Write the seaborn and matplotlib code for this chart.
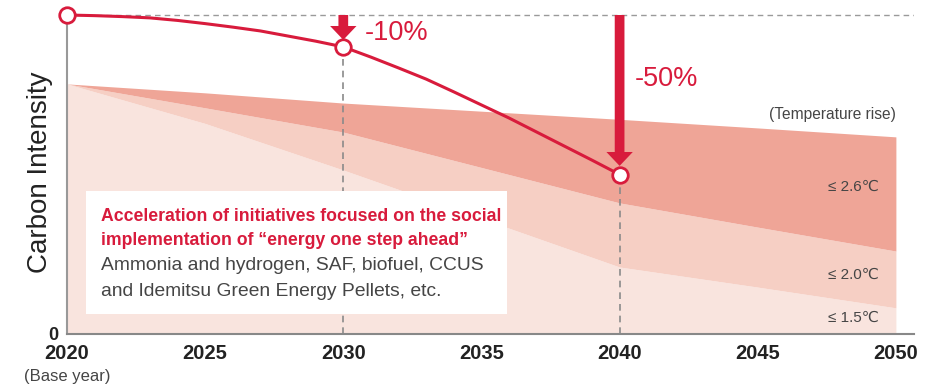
import matplotlib
matplotlib.use("Agg")
import matplotlib.pyplot as plt
from matplotlib.patches import Rectangle, FancyArrowPatch
import seaborn as sns

sns.set_theme(style="white")
plt.rcParams["font.family"] = ["Liberation Sans", "DejaVu Sans"]

RED = "#d81b3c"
GREY_TXT = "#454545"
BAND_COLORS = {"2.6": "#efa597", "2.0": "#f6cfc4", "1.5": "#f9e4de"}

# Idemitsu carbon intensity path (2020 = 1.0)
path_years = list(range(2020, 2041))
path_values = [1.0, 0.998, 0.995, 0.991, 0.983, 0.973, 0.962, 0.950, 0.934, 0.918, 0.90,
               0.868, 0.834, 0.799, 0.759, 0.718, 0.677, 0.633, 0.589, 0.545, 0.50]
milestone_years = [2020, 2030, 2040]
milestone_values = [1.0, 0.90, 0.50]

# temperature-rise bands (upper edge of each band)
band_years = [2020, 2025, 2030, 2040, 2045, 2050]
band_26 = [0.784, 0.756, 0.724, 0.673, 0.646, 0.618]
band_20 = [0.784, 0.709, 0.633, 0.411, 0.335, 0.260]
band_15 = [0.784, 0.660, 0.514, 0.210, 0.147, 0.082]

xticks = [2020, 2025, 2030, 2035, 2040, 2045, 2050]

W, H = 932, 389
PX = 27.63  # pixels per year
fig = plt.figure(figsize=(W / 100, H / 100), dpi=100)
ax = fig.add_axes([67 / W, (H - 334) / H, (914 - 67) / W, 334 / H])
ax.set_xlim(2020, 2020 + 847 / PX)
ax.set_ylim(0, 334 / 319)
ax.patch.set_alpha(0)

# bands
ax.fill_between(band_years, 0, band_15, color=BAND_COLORS["1.5"], lw=0, zorder=1)
ax.fill_between(band_years, band_15, band_20, color=BAND_COLORS["2.0"], lw=0, zorder=1)
ax.fill_between(band_years, band_20, band_26, color=BAND_COLORS["2.6"], lw=0, zorder=1)

# reference dashed lines
ax.axhline(1.0, color="#9a9a9a", lw=1, ls=(0, (4, 3)), zorder=2)
for yr, v in zip(milestone_years[1:], milestone_values[1:]):
    ax.plot([yr, yr], [0, v], color="#8a8a8a", lw=1.2, ls=(0, (4, 3)), zorder=2)

# info box
ax.add_patch(Rectangle((2020 + 19 / PX, 20 / 319), 421 / PX, 123 / 319,
                       facecolor="white", edgecolor="none", zorder=3))
box_x = 2020 + 34 / PX
ax.text(box_x, (334 - 217) / 319, "Acceleration of initiatives focused on the social",
        color=RED, fontsize=12.7, fontweight="bold", va="center", zorder=4)
ax.text(box_x, (334 - 241) / 319, "implementation of \u201cenergy one step ahead\u201d",
        color=RED, fontsize=12.7, fontweight="bold", va="center", zorder=4)
ax.text(box_x, (334 - 266) / 319, "Ammonia and hydrogen, SAF, biofuel, CCUS",
        color=GREY_TXT, fontsize=13.9, va="center", zorder=4)
ax.text(box_x, (334 - 291) / 319, "and Idemitsu Green Energy Pellets, etc.",
        color=GREY_TXT, fontsize=13.9, va="center", zorder=4)

# red path
sns.lineplot(x=path_years, y=path_values, color=RED, lw=2.2, ax=ax, zorder=5)
ax.scatter(milestone_years, milestone_values, s=125, facecolor="white",
           edgecolor=RED, linewidth=2, zorder=7, clip_on=False)

# arrows
for yr, tip in [(2030, 0.922), (2040, 0.527)]:
    ax.add_patch(FancyArrowPatch((yr, 1.0), (yr, tip),
                                 arrowstyle="Simple,tail_width=7,head_width=19,head_length=10",
                                 mutation_scale=1, color=RED, lw=0, zorder=6,
                                 shrinkA=0, shrinkB=0))
ax.text(2020 + 298 / PX, (334 - 33) / 319, "-10%", color=RED, fontsize=19.5,
        va="center", ha="left", zorder=6)
ax.text(2020 + 568 / PX, (334 - 79) / 319, "-50%", color=RED, fontsize=19.5,
        va="center", ha="left", zorder=6)

# temperature labels
ax.text(2050, (334 - 115) / 319, "(Temperature rise)", color=GREY_TXT, fontsize=11.2,
        ha="right", va="center")
for lab, py in [("\u2264 2.6\u2103", 187), ("\u2264 2.0\u2103", 275), ("\u2264 1.5\u2103", 318)]:
    ax.text(2020 + (879 - 67) / PX, (334 - py) / 319, lab, color=GREY_TXT,
            fontsize=11, ha="right", va="center", zorder=2)

# axes styling
for side in ["top", "right"]:
    ax.spines[side].set_visible(False)
ax.spines["left"].set_color("#999999")
ax.spines["left"].set_linewidth(1.5)
ax.spines["left"].set_bounds(0, 1.0)
ax.spines["bottom"].set_color("#888888")
ax.spines["bottom"].set_linewidth(1.5)
ax.set_xticks(xticks)
ax.set_xticklabels([str(t) for t in xticks], fontsize=14.5, fontweight="bold", color="#222222")
ax.set_yticks([0])
ax.set_yticklabels(["0"], fontsize=13, fontweight="bold", color="#222222")
ax.tick_params(axis="x", length=0, pad=7)
ax.tick_params(axis="y", length=0, pad=6)
ax.set_ylabel("Carbon Intensity", fontsize=20, color="#222222")
ax.yaxis.set_label_coords(-14 / 847, 0.485)

fig.text(67 / W, 1 - 377 / H, "(Base year)", fontsize=12, color=GREY_TXT,
         ha="center", va="center")

fig.savefig("out.png", dpi=100)
